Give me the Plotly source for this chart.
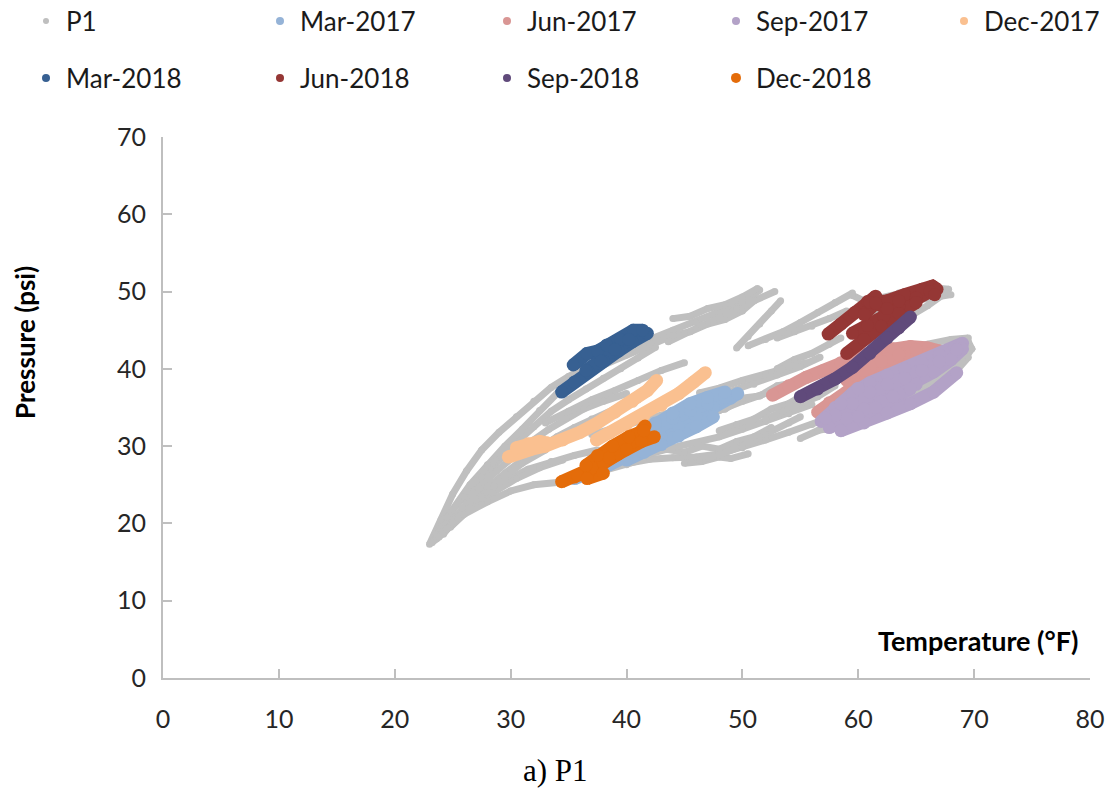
import plotly.graph_objects as go

# Temperature (°F) / pressure (psi) readings per period.
# None separates individual passes within a series.

p1_temp = [
    23.0, 24.0, 25.0, 26.2, 27.5, 29.0, 30.5, 32.0, 33.5, 35.0, 36.5, 38.0, 40.0, 42.0, 44.0, 46.0, 48.0, 50.0, 51.5, None,
    23.3, 24.5, 26.0, 27.5, 29.0, 30.5, 32.0, 33.5, 35.0, 36.5, 38.0, 39.5, 41.0, 42.5, None,
    23.5, 25.0, 26.5, 28.0, 29.5, 31.0, 32.5, 34.0, 35.5, 37.0, None,
    23.6, 25.0, 26.5, 28.0, 29.5, 31.0, 32.5, 34.0, 35.5, 37.0, 39.0, 41.0, None,
    24.2, 25.8, 27.2, 28.8, 30.3, 31.8, 33.3, 34.8, 36.3, 38.0, 40.0, None,
    23.8, 25.5, 27.5, 29.5, 31.5, 33.5, 35.5, 37.5, None,
    24.8, 26.5, 28.5, 30.5, 32.5, 34.5, None,
    23.2, 24.5, 26.0, 28.0, 30.0, 32.0, 34.0, 36.0, 38.0, 40.0, 42.0, None,
    25.0, 27.0, 29.0, 31.0, 33.0, None,
    27.0, 28.0, 29.2, 30.5, 31.5, None,
    33.0, 35.0, 37.0, 39.0, 41.0, 43.0, 45.0, None,
    38.0, 40.0, 42.0, 44.0, 45.5, 47.0, 48.5, 50.0, 51.0, None,
    44.0, 45.5, 47.0, 48.5, 50.0, 51.3, None,
    43.6, 45.0, 46.5, 48.0, 49.5, 51.0, 52.8, None,
    49.5, 50.5, 51.5, 52.5, 53.3, None,
    50.5, 52.0, 53.5, 55.0, 56.5, 58.0, 59.5, None,
    53.0, 54.5, 56.0, 57.5, 59.0, None,
    53.0, 54.5, 56.0, 57.5, 58.5, None,
    59.5, 60.5, 62.0, 63.5, 65.0, 66.5, 67.8, None,
    60.0, 62.0, 64.0, 66.0, 68.0, None,
    37.0, 39.0, 41.0, 43.0, 45.0, 47.0, 49.0, 51.0, 53.0, 55.0, 56.7, None,
    42.3, 44.0, 46.0, 48.0, 50.0, 52.0, 54.0, 55.5, None,
    44.0, 45.5, 47.0, 48.5, 50.0, 51.5, 53.0, 54.5, 56.0, None,
    46.3, 48.0, 50.0, 52.0, 54.0, 55.5, None,
    48.0, 49.5, 51.0, 52.5, 54.0, 55.5, None,
    38.0, 40.0, 42.0, 44.0, 46.0, 48.0, 50.0, 52.0, 54.0, 56.0, 58.0, 60.0, 62.0, 64.0, 66.0, 68.0, 69.6, None,
    42.0, 43.5, 45.0, 46.5, 48.0, 49.5, 51.0, 52.5, None,
    45.0, 46.5, 48.0, 49.0, 50.5, None,
    44.0, 46.0, 48.0, 50.0, 52.0, 54.0, 56.0, None,
    46.3, 48.0, 50.0, 52.0, 54.0, 55.0, None,
    52.0, 53.5, 55.0, 56.5, 58.0, None,
    55.0, 56.5, 58.0, 59.5, 61.0, 62.5, 64.0, 65.5, 67.0, 68.5, 69.5, None,
    57.0, 59.0, 61.0, 63.0, 65.0, 67.0, 69.0, 69.8, 69.5, None,
    62.0, 64.0, 66.0, 68.0, 69.5, None,
    63.0, 64.5, 66.0, 67.5,
]
p1_pres = [
    17.3, 20.5, 23.8, 26.8, 29.5, 31.8, 33.8, 35.8, 37.6, 39.0, 40.3, 41.4, 42.6, 43.8, 45.0, 46.0, 47.2, 48.6, 50.2, None,
    17.8, 20.8, 23.5, 26.0, 28.2, 30.5, 32.5, 34.5, 36.0, 37.4, 38.8, 40.0, 41.4, 42.8, None,
    18.0, 21.8, 25.0, 27.6, 30.0, 32.2, 34.6, 36.8, 38.8, 40.4, None,
    18.0, 20.5, 22.8, 24.8, 26.5, 28.2, 29.8, 31.2, 32.4, 33.5, 34.8, 36.0, None,
    18.6, 22.0, 24.6, 26.8, 28.8, 30.6, 32.2, 33.6, 34.8, 35.8, 36.8, None,
    18.2, 20.8, 23.5, 25.5, 27.0, 28.0, 28.8, 29.5, None,
    19.5, 22.0, 24.0, 25.8, 27.2, 28.2, None,
    17.5, 19.3, 21.2, 22.8, 24.2, 25.0, 25.3, 26.0, 26.8, 27.6, 28.5, None,
    20.2, 23.0, 25.5, 27.8, 29.5, None,
    25.5, 27.5, 28.5, 29.0, 30.5, None,
    33.0, 34.5, 36.0, 37.2, 38.5, 39.8, 40.8, None,
    40.5, 41.8, 43.2, 44.3, 44.8, 45.8, 46.4, 47.5, 48.8, None,
    46.5, 46.8, 47.8, 48.3, 49.3, 50.4, None,
    43.5, 44.6, 45.6, 46.6, 47.8, 48.8, 50.0, None,
    42.7, 44.2, 45.8, 47.5, 48.8, None,
    43.0, 43.8, 44.8, 46.0, 47.3, 48.6, 49.8, None,
    44.0, 44.8, 45.5, 46.5, 47.5, None,
    40.0, 41.2, 42.0, 43.2, 44.0, None,
    49.5, 48.8, 49.2, 49.8, 50.2, 50.5, 50.3, None,
    47.0, 47.6, 48.6, 49.2, 49.6, None,
    31.5, 32.3, 33.2, 34.0, 35.0, 36.0, 37.0, 38.0, 39.2, 40.3, 41.5, None,
    31.7, 32.5, 33.5, 34.6, 35.8, 36.8, 37.8, 38.6, None,
    33.0, 33.2, 34.5, 34.8, 36.2, 36.5, 37.8, 38.2, 39.5, None,
    36.9, 37.5, 38.5, 39.3, 40.2, 40.8, None,
    32.0, 32.8, 33.5, 34.8, 35.5, 36.8, None,
    27.2, 27.8, 28.3, 28.5, 28.6, 29.0, 29.8, 30.8, 31.8, 32.8, 33.8, 35.0, 36.2, 37.5, 38.8, 40.2, 42.4, None,
    29.0, 29.6, 29.2, 30.0, 29.6, 30.6, 31.2, 32.4, None,
    27.8, 28.0, 28.6, 28.4, 29.0, None,
    29.8, 30.4, 31.2, 32.2, 33.2, 34.2, 35.4, None,
    28.2, 28.9, 30.0, 31.5, 33.0, 33.8, None,
    33.5, 34.5, 35.6, 36.4, 37.8, None,
    31.0, 32.0, 32.5, 33.5, 34.2, 35.0, 35.8, 37.0, 38.2, 39.8, 41.5, None,
    32.2, 33.2, 34.8, 36.2, 37.5, 39.0, 41.0, 42.6, 43.5, None,
    41.5, 42.5, 43.2, 43.8, 44.0, None,
    45.5, 46.8, 48.2, 49.8,
]

mar17_temp = [35.5, 37.0, 38.5, 40.0, 41.5, 43.0, 44.5, 46.0, 47.5, 49.0, 49.6, None,
              38.0, 39.5, 41.0, 42.5, 44.0, 45.5, 47.0, 48.5, None,
              40.0, 41.5, 43.0, 44.5, 46.0, 47.5, None,
              41.0, 42.5, 44.0, 45.5, 47.0, 48.5]
mar17_pres = [25.8, 26.6, 27.6, 28.7, 29.9, 31.2, 32.5, 33.8, 35.0, 36.2, 36.8, None,
              28.6, 29.8, 31.2, 32.5, 33.6, 34.6, 35.5, 36.3, None,
              28.2, 29.2, 30.2, 31.3, 32.5, 33.8, None,
              31.5, 33.0, 34.3, 35.5, 36.3, 37.0]

jun17_temp = [52.6, 54.0, 55.5, 57.0, 58.5, 60.0, 61.5, 63.0, 64.5, 66.0, 67.0, None,
              56.5, 57.5, 59.0, 60.5, 62.0, 63.5, 65.0, 66.0, None,
              59.0, 60.5, 62.0, 63.5, 65.0]
jun17_pres = [36.6, 37.8, 38.9, 39.8, 40.8, 41.6, 42.2, 42.6, 42.9, 42.7, 42.3, None,
              34.4, 35.6, 37.0, 38.3, 39.5, 40.5, 41.5, 42.0, None,
              38.5, 39.8, 41.0, 41.8, 42.5]

sep17_temp = [56.8, 58.0, 59.5, 61.0, 62.5, 64.0, 65.5, 67.0, 68.3, 69.0, None,
              57.5, 59.0, 60.5, 62.0, 63.5, 65.0, 66.5, 68.0, 69.0, None,
              58.0, 59.5, 61.0, 62.5, 64.0, 65.5, 67.0, 68.5, None,
              58.5, 60.5, 62.5, 64.5, 66.5, 68.5, None,
              57.2, 58.5, 60.0, None,
              60.0, 61.5, 63.0, 64.5]
sep17_pres = [33.2, 35.0, 36.8, 38.2, 39.2, 40.0, 40.8, 41.8, 42.8, 43.3, None,
              32.4, 33.6, 34.8, 35.8, 36.8, 38.0, 39.6, 41.2, 42.6, None,
              34.0, 35.5, 37.0, 38.0, 38.8, 39.8, 41.0, 42.5, None,
              32.0, 33.0, 34.3, 35.5, 37.0, 39.5, None,
              33.6, 35.5, 37.5, None,
              33.8, 35.0, 36.4, 37.4]

dec17_temp = [29.8, 30.8, 31.8, 33.0, 34.5, 36.0, 37.5, 39.0, 40.5, 41.8, 42.6, None,
              30.5, 31.5, 32.5, 33.2, None,
              37.4, 38.5, 40.0, 41.5, 43.0, 44.5, 45.8, 46.8]
dec17_pres = [28.6, 29.2, 29.6, 30.0, 30.8, 31.8, 33.0, 34.4, 35.8, 37.2, 38.5, None,
              29.8, 30.3, 30.6, 30.4, None,
              30.8, 31.7, 32.8, 34.0, 35.3, 36.8, 38.3, 39.5]

mar18_temp = [34.4, 35.5, 36.7, 38.0, 39.3, 40.5, 41.8, None,
              35.4, 36.6, 37.5, 38.3, 39.5, 40.6, 41.4, None,
              36.5, 37.8, 39.0, 40.2]
mar18_pres = [37.0, 38.3, 39.6, 41.0, 42.3, 43.5, 44.6, None,
              40.5, 42.0, 42.3, 43.1, 43.8, 45.0, 45.0, None,
              39.8, 41.0, 42.5, 43.8]

jun18_temp = [57.4, 58.5, 59.7, 60.8, 61.5, None,
              61.0, 62.5, 64.0, 65.5, 66.4, 66.8, None,
              59.5, 60.8, 62.2, 63.5, 65.0, 66.2, 66.6, None,
              59.0, 60.5, 62.0, 63.5, 65.0, None,
              60.5, 61.5, 62.5, 63.5]
jun18_pres = [44.5, 45.8, 47.3, 48.7, 49.4, None,
              48.6, 48.8, 49.6, 50.3, 50.7, 50.3, None,
              44.6, 45.6, 46.8, 48.0, 49.2, 50.0, 49.6, None,
              42.0, 43.8, 45.5, 47.2, 48.6, None,
              47.0, 48.5, 47.8, 48.8]

sep18_temp = [55.0, 56.5, 58.0, 59.5, 61.0, 62.5, 63.5, 64.5]
sep18_pres = [36.4, 37.4, 38.7, 40.2, 42.0, 44.0, 45.3, 46.7]

dec18_temp = [34.4, 35.5, 36.8, 38.0, 39.3, 40.5, 41.6, None,
              35.8, 37.0, 38.5, 40.0, 41.3, 42.4, None,
              36.5, 37.5, 38.8, 40.2, 41.5, None,
              36.6, 38.0]
dec18_pres = [25.4, 26.0, 26.8, 27.8, 29.0, 30.5, 32.6, None,
              26.2, 27.2, 28.5, 29.6, 30.6, 31.2, None,
              27.5, 28.8, 30.0, 31.2, 32.0, None,
              25.8, 26.5]

series_names = ["P1", "Mar-2017", "Jun-2017", "Sep-2017", "Dec-2017",
                "Mar-2018", "Jun-2018", "Sep-2018", "Dec-2018"]
series_temp = [p1_temp, mar17_temp, jun17_temp, sep17_temp, dec17_temp,
               mar18_temp, jun18_temp, sep18_temp, dec18_temp]
series_pres = [p1_pres, mar17_pres, jun17_pres, sep17_pres, dec17_pres,
               mar18_pres, jun18_pres, sep18_pres, dec18_pres]

x_ticks = [0, 10, 20, 30, 40, 50, 60, 70, 80]
y_ticks = [0, 10, 20, 30, 40, 50, 60, 70]

# styling
colors = ["#BFBFBF", "#95B3D7", "#D99694", "#B3A2C7", "#FAC090",
          "#376092", "#953735", "#604A7B", "#E46C0A"]
stroke_w = [7, 13, 13, 13, 13, 13, 13, 13, 13]
legend_marker = [6, 8, 8, 8, 8, 8, 8, 8, 10]
# legend slot (marker centre x, row centre y) in pixels
legend_slots = [(46, 21), (280, 21), (507, 21), (736, 21), (964, 21),
                (46, 78), (280, 78), (507, 78), (736, 78)]

W, H = 1111, 792
FONT = "Lato"

fig = go.Figure()

for name, t, p, c, w in zip(series_names, series_temp, series_pres, colors, stroke_w):
    fig.add_trace(go.Scatter(
        x=t, y=p, mode="lines+markers", name=name, showlegend=False,
        line=dict(color=c, width=w),
        marker=dict(color=c, size=w, line=dict(width=0)),
        connectgaps=False, hoverinfo="skip",
    ))

legend_layouts = {}
for i, (name, c, ms, (mx, my)) in enumerate(zip(series_names, colors, legend_marker, legend_slots)):
    key = "legend" if i == 0 else f"legend{i + 1}"
    fig.add_trace(go.Scatter(
        x=[None], y=[None], mode="markers", name=name,
        marker=dict(color=c, size=ms), legend=key, showlegend=True,
    ))
    legend_layouts[key] = dict(
        xref="container", yref="container",
        x=(mx - 20) / W, y=1 - my / H,
        xanchor="left", yanchor="middle",
        bgcolor="rgba(0,0,0,0)", borderwidth=0,
        font=dict(family=FONT, size=26, color="#1a1a1a"),
        itemclick=False, itemdoubleclick=False,
    )

axis_common = dict(
    showline=True, linecolor="#BFBFBF", linewidth=2,
    ticks="inside", ticklen=9, tickwidth=1.5, tickcolor="#BFBFBF",
    showgrid=False, zeroline=False,
    tickfont=dict(family=FONT, size=25, color="#262626"),
)

fig.update_layout(
    width=W, height=H,
    margin=dict(l=163, r=21, t=137, b=114, autoexpand=False),
    paper_bgcolor="white", plot_bgcolor="white",
    xaxis=dict(range=[0, 80], tickvals=x_ticks, ticklabelstandoff=18, **axis_common),
    yaxis=dict(range=[0, 70], tickvals=y_ticks, ticklabelstandoff=10, **axis_common),
    annotations=[
        dict(text="<b>Temperature (°F)</b>", xref="paper", yref="paper",
             x=(1080 - 163) / 927, y=(678 - 640) / 541, xanchor="right", yanchor="middle",
             showarrow=False, font=dict(family=FONT, size=27, color="#000")),
        dict(text="<b>Pressure (psi)</b>", xref="paper", yref="paper",
             x=(25 - 163) / 927, y=(678 - 343) / 541, xanchor="center", yanchor="middle",
             textangle=-90, showarrow=False, font=dict(family=FONT, size=26, color="#000")),
        dict(text="a) P1", xref="paper", yref="paper",
             x=(555 - 163) / 927, y=(678 - 770) / 541, xanchor="center", yanchor="middle",
             showarrow=False, font=dict(family="Liberation Serif", size=31, color="#000")),
    ],
    **legend_layouts,
)

fig.write_html("out.html")
